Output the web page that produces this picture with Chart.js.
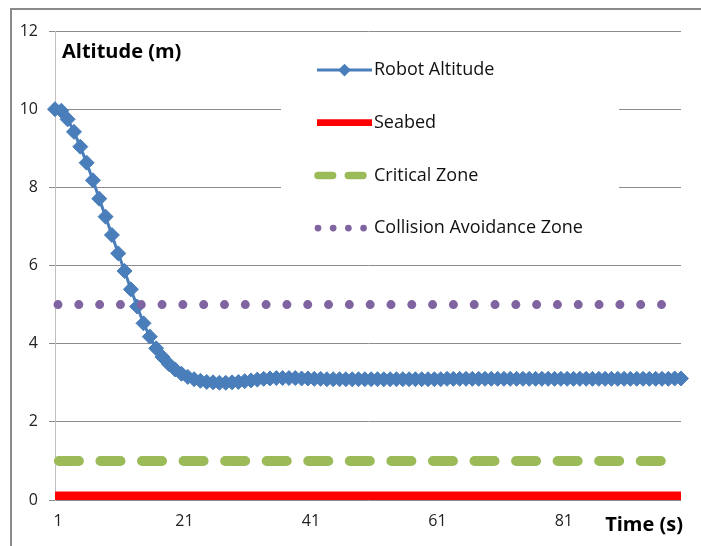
<!DOCTYPE html>
<html>
<head>
<meta charset="utf-8">
<script src="https://cdn.jsdelivr.net/npm/chart.js@4.4.1/dist/chart.umd.min.js"></script>
<style>
  html, body { margin: 0; padding: 0; background: #fff; }
  #wrap { width: 701px; height: 546px; }
</style>
</head>
<body>
<div id="wrap"><canvas id="chart" width="701" height="546"></canvas></div>
<script>
/* ---------- data ---------- */
const timeSteps = [
  1, 2, 3, 4, 5, 6, 7, 8, 9, 10, 11, 12, 13, 14, 15, 16, 17, 18, 19, 20,
  21, 22, 23, 24, 25, 26, 27, 28, 29, 30, 31, 32, 33, 34, 35, 36, 37, 38, 39, 40,
  41, 42, 43, 44, 45, 46, 47, 48, 49, 50, 51, 52, 53, 54, 55, 56, 57, 58, 59, 60,
  61, 62, 63, 64, 65, 66, 67, 68, 69, 70, 71, 72, 73, 74, 75, 76, 77, 78, 79, 80,
  81, 82, 83, 84, 85, 86, 87, 88, 89, 90, 91, 92, 93, 94, 95, 96, 97, 98, 99, 100
];
const xTickLabels = ['1', '21', '41', '61', '81'];

const robotAltitude = [
  10.00, 9.96, 9.74, 9.42, 9.04, 8.63, 8.18, 7.71, 7.25, 6.78,
  6.31, 5.86, 5.39, 4.95, 4.52, 4.18, 3.88, 3.66, 3.48, 3.34,
  3.23, 3.15, 3.09, 3.05, 3.02, 3.01, 3.00, 3.00, 3.01, 3.02,
  3.04, 3.06, 3.08, 3.10, 3.11, 3.12, 3.12, 3.12, 3.12, 3.11,
  3.11, 3.10, 3.10, 3.09, 3.09, 3.09, 3.09, 3.09, 3.09, 3.09,
  3.09, 3.09, 3.09, 3.09, 3.09, 3.09, 3.09, 3.09, 3.09, 3.09,
  3.09, 3.09, 3.10, 3.10, 3.10, 3.10, 3.10, 3.10, 3.10, 3.10,
  3.10, 3.10, 3.10, 3.10, 3.10, 3.10, 3.10, 3.10, 3.10, 3.10,
  3.10, 3.10, 3.10, 3.10, 3.10, 3.10, 3.10, 3.10, 3.10, 3.10,
  3.10, 3.10, 3.10, 3.10, 3.10, 3.10, 3.10, 3.10, 3.11, 3.11
];
const seabedLevel = 0.1;      // m
const criticalLevel = 1;      // m
const avoidanceLevel = 5;     // m

const yMin = 0, yMax = 12, yStep = 2;

const FONT = '"Open Sans", "Liberation Sans", sans-serif';
const first = String(timeSteps[0]);
const last = String(timeSteps[timeSteps.length - 1]);

/* ---------- plugins ---------- */
// grey frame of the chart object (only left and top edges are in view)
const chartFrame = {
  id: 'chartFrame',
  beforeDraw(chart) {
    const ctx = chart.ctx;
    ctx.save();
    ctx.fillStyle = '#fff';
    ctx.fillRect(0, 0, chart.width, chart.height);
    ctx.strokeStyle = '#8a8a8a';
    ctx.lineWidth = 2;
    ctx.beginPath();
    ctx.moveTo(11, chart.height);
    ctx.lineTo(11, 9);
    ctx.lineTo(chart.width, 9);
    ctx.stroke();
    ctx.restore();
  }
};

// axis titles sitting inside / beside the plot like in Excel
const axisTitles = {
  id: 'axisTitles',
  afterDraw(chart) {
    const { ctx, chartArea } = chart;
    ctx.save();
    ctx.fillStyle = '#000';
    ctx.font = 'bold 20px ' + FONT;
    ctx.textBaseline = 'middle';
    ctx.textAlign = 'left';
    ctx.fillText('Altitude (m)', chartArea.left + 7, 52);
    ctx.textAlign = 'right';
    ctx.fillText('Time (s)', chartArea.right + 2, 525);
    ctx.restore();
  }
};

// legend box inside the plot area, one entry per row
const boxLegend = {
  id: 'boxLegend',
  afterDraw(chart) {
    const ctx = chart.ctx;
    const k = 0.73;                 // excel draws smaller samples in the legend
    ctx.save();
    ctx.fillStyle = '#fff';
    ctx.fillRect(281, 40, 338, 215);
    chart.data.datasets.forEach((ds, i) => {
      const y = 70 + i * 52.7;
      ctx.save();
      ctx.strokeStyle = ds.borderColor;
      ctx.lineWidth = ds.legendWidth || ds.borderWidth * 0.75;
      ctx.lineCap = ds.borderCapStyle || 'butt';
      ctx.setLineDash((ds.borderDash || []).map(v => v * k));
      ctx.beginPath();
      ctx.moveTo(ds.borderDash ? 318 : 317, y);
      ctx.lineTo(ds.borderDash ? 368 : 372, y);
      ctx.stroke();
      if (ds.pointRadius > 0) {
        const r = ds.pointRadius * 0.85;
        ctx.setLineDash([]);
        ctx.fillStyle = ds.pointBackgroundColor;
        ctx.beginPath();
        ctx.moveTo(344.5 - r, y);
        ctx.lineTo(344.5, y - r);
        ctx.lineTo(344.5 + r, y);
        ctx.lineTo(344.5, y + r);
        ctx.closePath();
        ctx.fill();
      }
      ctx.restore();
      ctx.fillStyle = '#111';
      ctx.font = '18px ' + FONT;
      ctx.textAlign = 'left';
      ctx.textBaseline = 'middle';
      ctx.fillText(ds.label, 374, y);
    });
    ctx.restore();
  }
};

/* ---------- chart ---------- */
new Chart(document.getElementById('chart'), {
  type: 'line',
  data: {
    labels: timeSteps.map(String),
    datasets: [
      {
        label: 'Robot Altitude',
        data: robotAltitude,
        borderColor: '#4a7ebb',
        backgroundColor: '#4a7ebb',
        borderWidth: 3,
        legendWidth: 3,
        tension: 0,
        pointStyle: 'rectRot',
        pointRadius: 7.5,
        pointBorderWidth: 1,
        pointBackgroundColor: '#4a7ebb',
        pointBorderColor: '#4a7ebb',
        order: 4
      },
      {
        label: 'Seabed',
        data: [{ x: first, y: seabedLevel }, { x: last, y: seabedLevel }],
        borderColor: '#ff0000',
        borderWidth: 9,
        borderCapStyle: 'butt',
        pointRadius: 0,
        order: 3
      },
      {
        label: 'Critical Zone',
        data: [{ x: first, y: criticalLevel }, { x: last, y: criticalLevel }],
        borderColor: '#9bbb59',
        borderWidth: 10,
        borderCapStyle: 'round',
        borderDash: [20, 21.56],
        borderDashOffset: 37.66,
        pointRadius: 0,
        order: 2
      },
      {
        label: 'Collision Avoidance Zone',
        data: [{ x: first, y: avoidanceLevel }, { x: last, y: avoidanceLevel }],
        borderColor: '#8064a2',
        borderWidth: 9,
        borderCapStyle: 'round',
        borderDash: [0, 20.81],
        borderDashOffset: 17.8,
        pointRadius: 0,
        order: 1
      }
    ]
  },
  options: {
    responsive: false,
    animation: false,
    layout: { padding: { top: 31, right: 20, left: 0, bottom: 0 } },
    plugins: {
      legend: { display: false },
      tooltip: { enabled: false }
    },
    scales: {
      x: {
        type: 'category',
        offset: false,
        grid: { display: false, drawTicks: false },
        border: { display: false },
        ticks: {
          autoSkip: false,
          maxRotation: 0,
          padding: 12,
          labelOffset: 3,
          color: '#222',
          font: { family: FONT, size: 16 },
          callback(value) {
            const l = this.getLabelForValue(value);
            return xTickLabels.includes(l) ? l : '';
          }
        },
        afterFit(scale) { scale.height = 46; }
      },
      y: {
        min: yMin,
        max: yMax,
        ticks: {
          stepSize: yStep,
          padding: 11,
          color: '#222',
          font: { family: FONT, size: 16 }
        },
        grid: { color: '#8c8c8c', tickColor: '#8c8c8c', tickLength: 6 },
        border: { color: '#c0c0c0' },
        afterFit(scale) { scale.width = 55; }
      }
    }
  },
  plugins: [chartFrame, axisTitles, boxLegend]
});
</script>
</body>
</html>
